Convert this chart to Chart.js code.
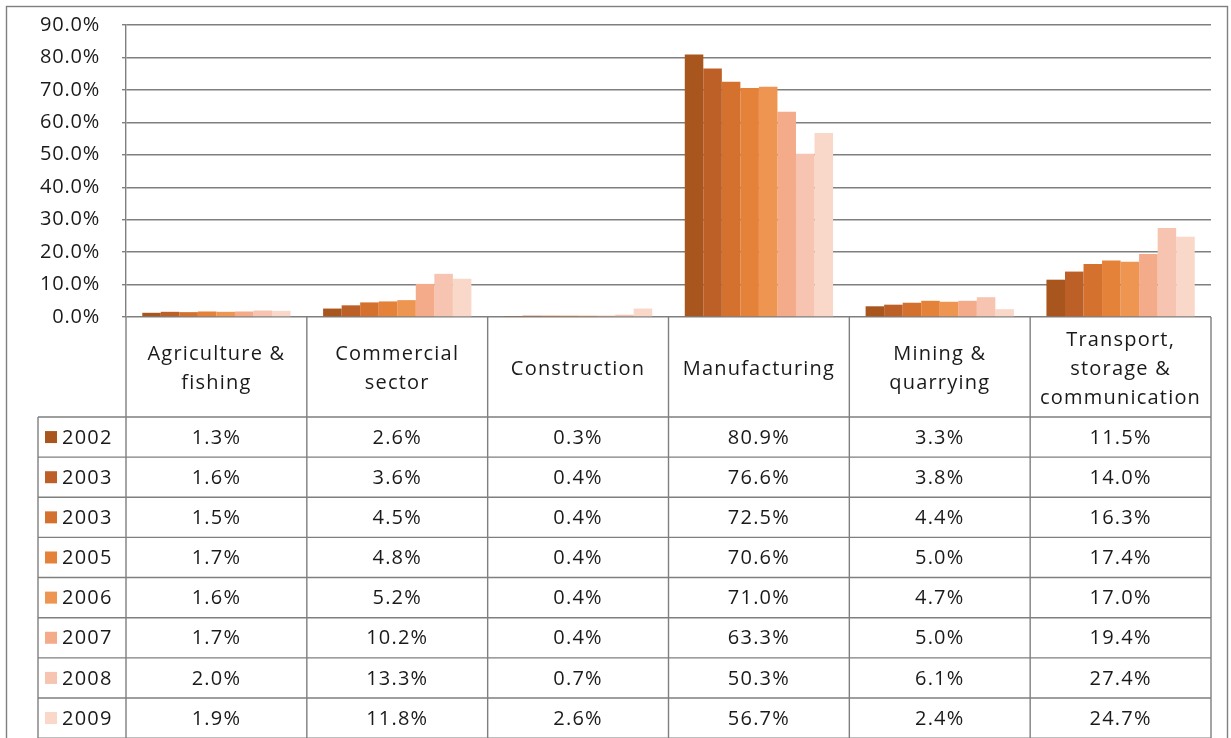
<!DOCTYPE html>
<html>
<head>
<meta charset="utf-8">
<script src="https://cdn.jsdelivr.net/npm/chart.js@4.4.1/dist/chart.umd.min.js"></script>
<style>
  html, body { margin: 0; padding: 0; background: #fff; }
  #wrap { width: 1231px; height: 738px; position: relative; }
</style>
</head>
<body>
<div id="wrap"><canvas id="chart"></canvas></div>
<script>
const categories = [
    ['Agriculture &', 'fishing'],
    ['Commercial', 'sector'],
    ['Construction'],
    ['Manufacturing'],
    ['Mining &', 'quarrying'],
    ['Transport,', 'storage &', 'communication']
];
const years = ['2002', '2003', '2003', '2005', '2006', '2007', '2008', '2009'];
const y2002 = [1.3, 2.6, 0.3, 80.9, 3.3, 11.5];
const y2003 = [1.6, 3.6, 0.4, 76.6, 3.8, 14.0];
const y2003b = [1.5, 4.5, 0.4, 72.5, 4.4, 16.3];
const y2005 = [1.7, 4.8, 0.4, 70.6, 5.0, 17.4];
const y2006 = [1.6, 5.2, 0.4, 71.0, 4.7, 17.0];
const y2007 = [1.7, 10.2, 0.4, 63.3, 5.0, 19.4];
const y2008 = [2.0, 13.3, 0.7, 50.3, 6.1, 27.4];
const y2009 = [1.9, 11.8, 2.6, 56.7, 2.4, 24.7];
const yTicks = [0, 10, 20, 30, 40, 50, 60, 70, 80, 90];

const series = [y2002, y2003, y2003b, y2005, y2006, y2007, y2008, y2009];
const colors = ['#a9561e', '#bd6028', '#d5712f', '#e5823a', '#ee9552', '#f4ab8a', '#f6c4b0', '#f9d7c9'];
const lineColor = '#7f7f7f';
const fontFamily = '"Open Sans", "Noto Sans", sans-serif';

// wider letters, the original text is set quite wide
const spacing = {
    id: 'spacing',
    beforeDraw(chart) { chart.ctx.letterSpacing = '0.8px'; }
};

const dataTable = {
    id: 'dataTable',
    afterDraw(chart) {
        const ctx = chart.ctx;
        const x = chart.scales.x;
        const area = chart.chartArea;
        const n = categories.length;
        const colW = (x.right - x.left) / n;
        const headTop = area.bottom;
        const headBottom = 417;
        const rowH = 40.14;
        const legLeft = 38;

        ctx.save();
        ctx.strokeStyle = lineColor;
        ctx.lineWidth = 1.4;

        // outer frame
        ctx.strokeRect(6.5, 6.5, 1221, 740);

        ctx.beginPath();
        ctx.moveTo(x.left, headBottom);
        ctx.lineTo(x.right, headBottom);
        for (let i = 0; i <= n; i++) {
            const cx = x.getPixelForValue(i) - colW / 2;
            ctx.moveTo(cx, headTop);
            ctx.lineTo(cx, 738);
        }
        ctx.moveTo(legLeft, headBottom);
        ctx.lineTo(legLeft, 738);
        ctx.moveTo(legLeft, headBottom);
        ctx.lineTo(x.left, headBottom);
        for (let r = 1; r <= years.length; r++) {
            const ry = headBottom + r * rowH;
            ctx.moveTo(legLeft, ry);
            ctx.lineTo(x.right, ry);
        }
        ctx.stroke();

        ctx.fillStyle = '#1a1a1a';
        ctx.textAlign = 'center';
        ctx.textBaseline = 'middle';
        ctx.letterSpacing = '1.2px';
        ctx.font = '20px ' + fontFamily;

        categories.forEach((lines, i) => {
            const cx = x.getPixelForValue(i);
            const mid = (headTop + headBottom) / 2 + 2;
            const lh = 29;
            lines.forEach((t, k) => {
                ctx.fillText(t, cx, mid + (k - (lines.length - 1) / 2) * lh);
            });
        });

        series.forEach((vals, r) => {
            const cy = headBottom + r * rowH + rowH / 2;
            ctx.fillStyle = colors[r];
            ctx.fillRect(45, cy - 6, 12, 12);
            ctx.fillStyle = '#1a1a1a';
            ctx.textAlign = 'left';
            ctx.fillText(years[r], 62, cy + 1);
            ctx.textAlign = 'center';
            vals.forEach((v, i) => {
                ctx.fillText(v.toFixed(1) + '%', x.getPixelForValue(i), cy + 1);
            });
        });
        ctx.restore();
    }
};

new Chart(document.getElementById('chart'), {
    type: 'bar',
    data: {
        labels: categories.map(c => c.join(' ')),
        datasets: series.map((vals, i) => ({
            label: years[i],
            data: vals,
            backgroundColor: colors[i],
            borderWidth: 0,
            barPercentage: 1,
            categoryPercentage: 0.82
        }))
    },
    options: {
        responsive: true,
        maintainAspectRatio: false,
        animation: false,
        layout: { padding: { top: 25, right: 20, bottom: 421, left: 0 } },
        plugins: {
            legend: { display: false },
            tooltip: { enabled: false }
        },
        scales: {
            x: { display: false },
            y: {
                min: 0,
                max: 90,
                afterFit(scale) {
                    scale.width = 126;
                    scale.paddingTop = 0;
                    scale.paddingBottom = 0;
                },
                afterBuildTicks(scale) { scale.ticks = yTicks.map(v => ({ value: v })); },
                ticks: {
                    padding: 22,
                    color: '#1a1a1a',
                    font: { family: fontFamily, size: 20 },
                    callback: v => v.toFixed(1) + '%'
                },
                grid: { color: lineColor, lineWidth: 1.4, tickLength: 4 },
                border: { color: lineColor, width: 1.4 }
            }
        }
    },
    plugins: [spacing, dataTable]
});
</script>
</body>
</html>
